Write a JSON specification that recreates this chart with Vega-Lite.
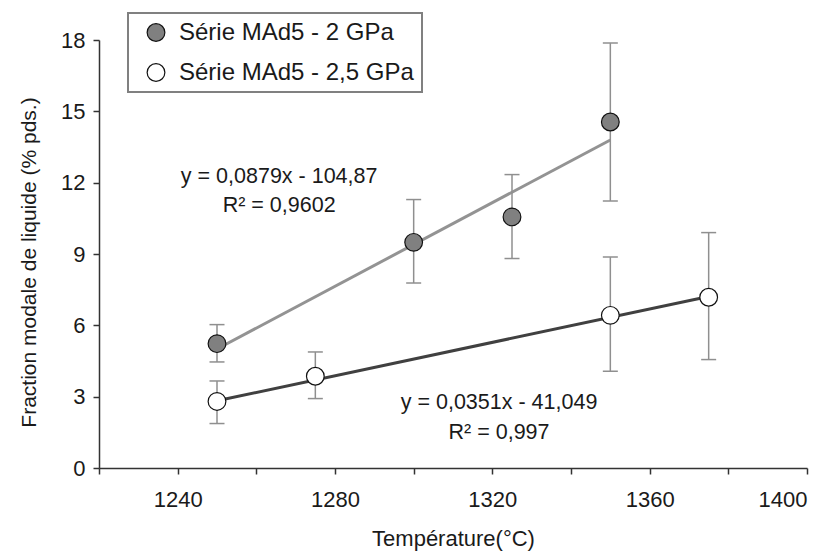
{
  "$schema": "https://vega.github.io/schema/vega-lite/v6.json",
  "width": 708,
  "height": 428,
  "autosize": {"type": "none"},
  "padding": {"left": 99, "top": 40, "right": 24, "bottom": 84},
  "background": "white",
  "config": {
    "font": "Liberation Sans",
    "view": {"stroke": null},
    "axis": {
      "grid": false,
      "domainColor": "#333333",
      "domainWidth": 1.5,
      "tickColor": "#333333",
      "tickWidth": 1.5,
      "tickSize": 6,
      "labelFontSize": 22,
      "labelColor": "#1a1a1a",
      "titleFontSize": 22,
      "titleFontWeight": "normal",
      "titleColor": "#1a1a1a"
    }
  },
  "datasets": {
    "pts": [
      {"serie": "Série MAd5 - 2 GPa", "T": 1250, "F": 5.23, "lo": 4.46, "hi": 6.03},
      {"serie": "Série MAd5 - 2 GPa", "T": 1300, "F": 9.49, "lo": 7.78, "hi": 11.29},
      {"serie": "Série MAd5 - 2 GPa", "T": 1325, "F": 10.56, "lo": 8.81, "hi": 12.34},
      {"serie": "Série MAd5 - 2 GPa", "T": 1350, "F": 14.55, "lo": 11.23, "hi": 17.87},
      {"serie": "Série MAd5 - 2,5 GPa", "T": 1250, "F": 2.8, "lo": 1.87, "hi": 3.66},
      {"serie": "Série MAd5 - 2,5 GPa", "T": 1275, "F": 3.86, "lo": 2.92, "hi": 4.88},
      {"serie": "Série MAd5 - 2,5 GPa", "T": 1350, "F": 6.42, "lo": 4.07, "hi": 8.87},
      {"serie": "Série MAd5 - 2,5 GPa", "T": 1375, "F": 7.18, "lo": 4.56, "hi": 9.9}
    ],
    "trend": [
      {"courbe": "tendance 2 GPa", "T": 1250, "F": 5.005},
      {"courbe": "tendance 2 GPa", "T": 1350, "F": 13.795},
      {"courbe": "tendance 2,5 GPa", "T": 1250, "F": 2.826},
      {"courbe": "tendance 2,5 GPa", "T": 1375, "F": 7.214}
    ],
    "notes": [
      {"T": 1265.8, "F": 11.98, "txt": "y = 0,0879x - 104,87"},
      {"T": 1265.8, "F": 10.77, "txt": "R² = 0,9602"},
      {"T": 1321.7, "F": 2.5, "txt": "y = 0,0351x - 41,049"},
      {"T": 1321.7, "F": 1.24, "txt": "R² = 0,997"}
    ]
  },
  "encoding": {
    "x": {
      "field": "T",
      "type": "quantitative",
      "scale": {"domain": [1220, 1400], "nice": false, "zero": false},
      "axis": {
        "title": "Température(°C)",
        "values": [1220, 1240, 1260, 1280, 1300, 1320, 1340, 1360, 1380, 1400],
        "labelExpr": "datum.value % 40 == 0 ? datum.label : ''",
        "format": "d",
        "labelPadding": 15,
        "titlePadding": 18
      }
    },
    "y": {
      "field": "F",
      "type": "quantitative",
      "scale": {"domain": [0, 18], "nice": false},
      "axis": {
        "title": "Fraction modale de liquide (% pds.)",
        "titleFontSize": 21,
        "titleY": 222,
        "values": [0, 3, 6, 9, 12, 15, 18],
        "labelPadding": 8,
        "titlePadding": 21
      }
    }
  },
  "layer": [
    {
      "data": {"name": "trend"},
      "mark": {"type": "line", "strokeWidth": 3},
      "encoding": {
        "stroke": {
          "field": "courbe",
          "type": "nominal",
          "scale": {"domain": ["tendance 2 GPa", "tendance 2,5 GPa"], "range": ["#939393", "#404040"]},
          "legend": null
        }
      }
    },
    {
      "data": {"name": "pts"},
      "mark": {"type": "rule", "color": "#8f8f8f", "strokeWidth": 1.5},
      "encoding": {
        "y": {"field": "lo", "type": "quantitative"},
        "y2": {"field": "hi"}
      }
    },
    {
      "data": {"name": "pts"},
      "mark": {"type": "tick", "orient": "horizontal", "color": "#8f8f8f", "size": 15, "thickness": 1.5, "opacity": 1},
      "encoding": {"y": {"field": "lo", "type": "quantitative"}}
    },
    {
      "data": {"name": "pts"},
      "mark": {"type": "tick", "orient": "horizontal", "color": "#8f8f8f", "size": 15, "thickness": 1.5, "opacity": 1},
      "encoding": {"y": {"field": "hi", "type": "quantitative"}}
    },
    {
      "data": {"name": "pts"},
      "mark": {"type": "point", "shape": "circle", "filled": true, "size": 314, "stroke": "#111111", "strokeWidth": 1.2, "opacity": 1},
      "encoding": {
        "fill": {
          "field": "serie",
          "type": "nominal",
          "scale": {"domain": ["Série MAd5 - 2 GPa", "Série MAd5 - 2,5 GPa"], "range": ["#808080", "#ffffff"]},
          "legend": {
            "title": null,
            "orient": "none",
            "legendX": 29,
            "legendY": -27,
            "padding": 7.5,
            "strokeColor": "#808080",
            "fillColor": "white",
            "labelFontSize": 24,
            "labelColor": "#1a1a1a",
            "labelLimit": 400,
            "labelOffset": 11,
            "rowPadding": 16,
            "symbolOffset": 8.5,
            "symbolType": "circle",
            "symbolSize": 314,
            "symbolStrokeColor": "#111111",
            "symbolStrokeWidth": 1.2,
            "symbolOpacity": 1,
            "encode": {"legend": {"update": {"strokeWidth": {"value": 2}}}}
          }
        }
      }
    },
    {
      "data": {"name": "notes"},
      "mark": {"type": "text", "fontSize": 21.5, "align": "center", "baseline": "alphabetic", "color": "#1a1a1a"},
      "encoding": {"text": {"field": "txt", "type": "nominal"}}
    }
  ]
}
